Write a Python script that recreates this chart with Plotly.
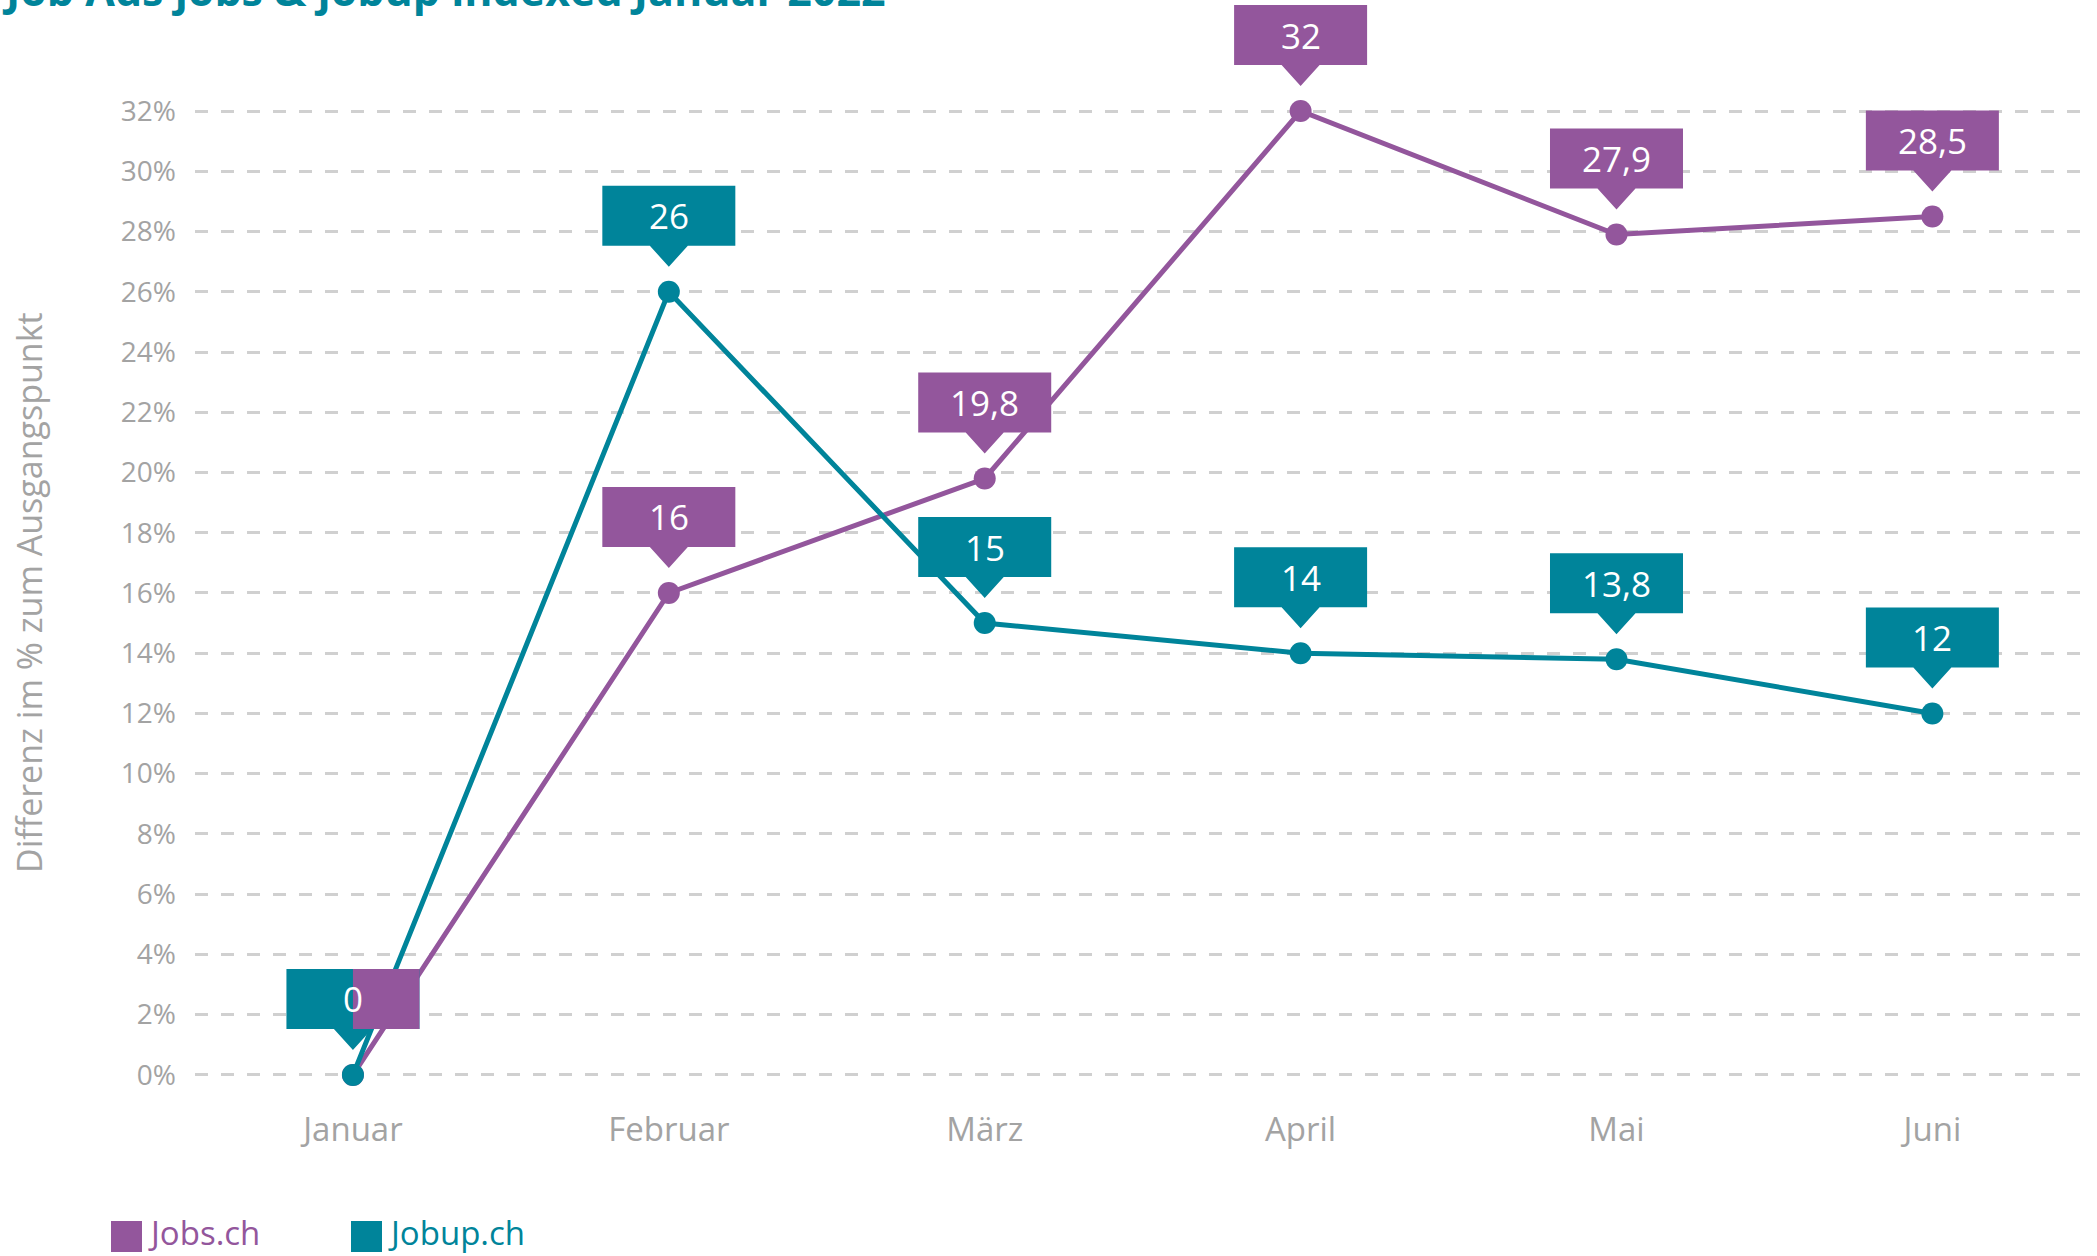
import plotly.graph_objects as go

# ---- data ----
months = ["Januar", "Februar", "März", "April", "Mai", "Juni"]
jobs_ch = [0, 16, 19.8, 32, 27.9, 28.5]
jobup_ch = [0, 26, 15, 14, 13.8, 12]
y_ticks = list(range(0, 33, 2))
y_tick_labels = [f"{v}%" for v in y_ticks]
series_names = ["Jobs.ch", "Jobup.ch"]

PURPLE = "#93569c"
TEAL = "#00849a"
GREY = "#a3a3a3"
GRID = "#d0d0d0"
FONT = "Open Sans"

W, H = 2097, 1256
ML, MR, MT, MB = 195, 13, 2, 151
PW, PH = W - ML - MR, H - MT - MB
Y_RANGE = [-1, 35.62]


def px_x(px):
    return (px - ML) / PW


def px_y(py):
    return (H - MB - py) / PH


def fmt(v):
    return f"{v:g}".replace(".", ",")


xs = list(range(len(months)))

fig = go.Figure()
fig.add_trace(go.Scatter(x=xs, y=jobs_ch, mode="lines+markers", name=series_names[0],
                         line=dict(color=PURPLE, width=5), marker=dict(size=22, color=PURPLE),
                         showlegend=False, hoverinfo="skip"))
fig.add_trace(go.Scatter(x=xs, y=jobup_ch, mode="lines+markers", name=series_names[1],
                         line=dict(color=TEAL, width=5), marker=dict(size=22, color=TEAL),
                         showlegend=False, hoverinfo="skip"))

# callout geometry (pixels above the point)
BX, BB, BT, TB, TT = 66.5, 46, 106, 19, 25
callout_path = (f"M {-BX},{BB} L {-BX},{BT} L {BX},{BT} L {BX},{BB} "
                f"L {TB},{BB} L 0,{TT} L {-TB},{BB} Z")
half_path = f"M 0,{BB} L 0,{BT} L {BX},{BT} L {BX},{BB} Z"
LABEL_FONT = dict(family=FONT, size=35, color="white")

shapes = []
annotations = []
for i, (a, b) in enumerate(zip(jobs_ch, jobup_ch)):
    if a == b:
        # shared label: teal callout with purple right half
        shapes.append(dict(type="path", xref="x", yref="y", xsizemode="pixel", ysizemode="pixel",
                           xanchor=i, yanchor=b, path=callout_path, fillcolor=TEAL,
                           line=dict(width=0), layer="above"))
        shapes.append(dict(type="path", xref="x", yref="y", xsizemode="pixel", ysizemode="pixel",
                           xanchor=i, yanchor=a, path=half_path, fillcolor=PURPLE,
                           line=dict(width=0), layer="above"))
        annotations.append(dict(x=i, y=a, xref="x", yref="y", text=fmt(a), showarrow=False,
                                yshift=(BB + BT) / 2, font=LABEL_FONT))
        continue
    for v, col in ((a, PURPLE), (b, TEAL)):
        shapes.append(dict(type="path", xref="x", yref="y", xsizemode="pixel", ysizemode="pixel",
                           xanchor=i, yanchor=v, path=callout_path, fillcolor=col,
                           line=dict(width=0), layer="above"))
        annotations.append(dict(x=i, y=v, xref="x", yref="y", text=fmt(v), showarrow=False,
                                yshift=(BB + BT) / 2, font=LABEL_FONT))

# title (cut off at the top, as in the reference)
annotations.append(dict(xref="paper", yref="paper", x=px_x(0), y=px_y(21), xanchor="left", yanchor="bottom",
                        showarrow=False,
                        text="<b>Job Ads jobs & jobup indexed Januar 2022</b>",
                        font=dict(family=FONT, size=43, color=TEAL)))

# y axis title
annotations.append(dict(xref="paper", yref="paper", x=px_x(29), y=px_y(593), xanchor="center",
                        yanchor="middle", textangle=-90, showarrow=False,
                        text="Differenz im % zum Ausgangspunkt",
                        font=dict(family=FONT, size=34, color=GREY)))

# legend
for name, col, sq_x, tx_x in ((series_names[0], PURPLE, 111, 146), (series_names[1], TEAL, 351, 386)):
    shapes.append(dict(type="rect", xref="paper", yref="paper", x0=px_x(sq_x), x1=px_x(sq_x + 31),
                       y0=px_y(1252), y1=px_y(1221), fillcolor=col, line=dict(width=0)))
    annotations.append(dict(xref="paper", yref="paper", x=px_x(tx_x), y=px_y(1232), xanchor="left",
                            yanchor="middle", showarrow=False, text=name,
                            font=dict(family=FONT, size=33, color=col)))

fig.update_layout(
    width=W, height=H,
    margin=dict(l=ML, r=MR, t=MT, b=MB),
    paper_bgcolor="white", plot_bgcolor="white",
    showlegend=False, hovermode=False,
    shapes=shapes, annotations=annotations,
    xaxis=dict(range=[-0.5, 5.48], tickvals=xs, ticktext=months, showgrid=False, zeroline=False,
               showline=False, ticks="", automargin=False,
               tickfont=dict(family=FONT, size=33, color=GREY), ticklabelstandoff=2),
    yaxis=dict(range=Y_RANGE, tickvals=y_ticks, ticktext=y_tick_labels, showgrid=True, gridcolor=GRID,
               gridwidth=2.5, griddash="13px,13px", zeroline=False, showline=False, ticks="",
               automargin=False, tickfont=dict(family=FONT, size=28, color=GREY), ticklabelstandoff=18),
)

fig.write_html("out.html", config={"displayModeBar": False},
               post_script="document.body.style.margin='0';document.body.style.overflow='hidden';")
